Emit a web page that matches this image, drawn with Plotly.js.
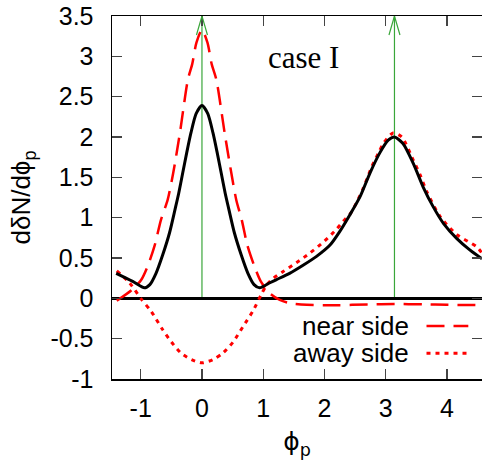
<!DOCTYPE html>
<html>
<head>
<meta charset="utf-8">
<script src="https://cdn.plot.ly/plotly-3.0.1.min.js"></script>
<style>html,body{margin:0;padding:0;background:#fff;}#chart{width:482px;height:467px;}</style>
</head>
<body>
<div id="chart"></div>
<script>
// total (solid black)
var totalX = [-1.40,-1.13,-0.94,-0.85,-0.75,-0.64,-0.53,-0.44,-0.38,-0.315,-0.25,-0.18,-0.095,0,0.095,0.18,0.25,0.315,0.38,0.44,0.53,0.64,0.75,0.85,0.94,1.10,1.21,1.43,1.65,1.87,2.09,2.25,2.41,2.58,2.74,2.90,3.04,3.14,3.28,3.45,3.61,3.77,3.94,4.16,4.37,4.57];
var totalY = [0.31,0.21,0.13,0.17,0.31,0.54,0.81,1.10,1.30,1.55,1.80,2.05,2.29,2.39,2.29,2.05,1.80,1.55,1.30,1.10,0.81,0.54,0.31,0.17,0.13,0.19,0.23,0.31,0.41,0.52,0.66,0.83,1.03,1.26,1.55,1.80,1.96,2.00,1.92,1.67,1.38,1.14,0.93,0.74,0.60,0.49];
// near side (red dashed)
var nearX = [-1.39,-1.15,-0.99,-0.88,-0.77,-0.67,-0.56,-0.47,-0.36,-0.23,-0.16,-0.09,0,0.09,0.16,0.235,0.37,0.48,0.56,0.65,0.74,0.85,0.96,1.11,1.27,1.43,1.71,2.2,2.7,3.14,3.6,4.0,4.57];
var nearY = [-0.03,0.10,0.23,0.41,0.66,0.97,1.22,1.55,2.05,2.71,2.90,3.17,3.33,3.17,2.90,2.71,2.05,1.55,1.22,0.97,0.66,0.41,0.21,0.06,-0.02,-0.06,-0.08,-0.085,-0.075,-0.07,-0.075,-0.08,-0.085];
// away side (red dotted)
var awayX = [-1.39,-1.18,-0.99,-0.83,-0.64,-0.50,-0.34,-0.17,0,0.18,0.34,0.51,0.67,0.83,0.97,1.05,1.15,1.32,1.54,1.76,2.0,2.20,2.30,2.44,2.63,2.77,2.88,2.96,3.12,3.26,3.45,3.56,3.67,3.89,4.16,4.48,4.57];
var awayY = [0.34,0.19,-0.01,-0.16,-0.39,-0.54,-0.68,-0.76,-0.80,-0.76,-0.68,-0.54,-0.35,-0.16,0.05,0.16,0.24,0.33,0.44,0.56,0.71,0.86,0.95,1.07,1.36,1.63,1.80,1.92,2.05,2.00,1.71,1.53,1.32,1.01,0.79,0.64,0.56];
// arrow positions (peak directions)
var arrowX = [0, Math.PI];
var seriesNames = ["near side", "away side"];
var xTicks = [-1,0,1,2,3,4];
var yTicks = [-1,-0.5,0,0.5,1,1.5,2,2.5,3,3.5];

var red = "#ff0000";
var green = "#3aa63a";
var traces = [
  {x: nearX, y: nearY, mode: "lines", line: {color: red, width: 2.5, dash: "18px,9px", shape: "spline", smoothing: 0.7}, showlegend: false, hoverinfo: "skip"},
  {x: awayX, y: awayY, mode: "lines", line: {color: red, width: 3, dash: "4px,5px", shape: "spline", smoothing: 0.7}, showlegend: false, hoverinfo: "skip"},
  {x: totalX, y: totalY, mode: "lines", line: {color: "#000", width: 3, shape: "spline", smoothing: 0.7}, showlegend: false, hoverinfo: "skip"}
];

var shapes = [];
arrowX.forEach(function(ax){
  shapes.push({type: "line", xref: "x", yref: "y", x0: ax, x1: ax, y0: 0, y1: 3.5, line: {color: green, width: 1.2}, layer: "below"});
  shapes.push({type: "path", xref: "x", yref: "y", xsizemode: "pixel", ysizemode: "pixel", xanchor: ax, yanchor: 3.5, path: "M-5.5,-19L0,0L5.5,-19", line: {color: green, width: 1.2}});
});
// legend samples
shapes.push({type: "line", xref: "paper", yref: "paper", x0: 0.850, x1: 0.963, y0: 0.146, y1: 0.146, line: {color: red, width: 2.5, dash: "18px,9px"}});
shapes.push({type: "line", xref: "paper", yref: "paper", x0: 0.850, x1: 0.963, y0: 0.071, y1: 0.071, line: {color: red, width: 3, dash: "4px,5px"}});

var layout = {
  width: 482, height: 467,
  margin: {l: 112, r: 0, t: 16, b: 88},
  paper_bgcolor: "#fff", plot_bgcolor: "#fff",
  font: {family: "Liberation Sans, Arial, sans-serif", size: 25, color: "#000"},
  showlegend: false,
  xaxis: {
    range: [-1.468, 4.570], tickvals: xTicks, ticktext: xTicks.map(String),
    ticks: "inside", ticklen: 10, tickwidth: 1.2, tickcolor: "#444",
    showline: true, linecolor: "#000", linewidth: 1.5, mirror: "ticks",
    showgrid: false, zeroline: false, ticklabelstandoff: 6,
    title: {text: "ϕ<sub>p</sub>", font: {size: 25, family: "DejaVu Sans, Liberation Sans, sans-serif"}, standoff: 12}
  },
  yaxis: {
    range: [-1, 3.5], tickvals: yTicks, ticktext: yTicks.map(String),
    ticks: "inside", ticklen: 10, tickwidth: 1.2, tickcolor: "#444",
    showline: true, linecolor: "#000", linewidth: 1.5, mirror: "ticks",
    showgrid: false, zeroline: true, zerolinecolor: "#000", zerolinewidth: 3.5,
    ticklabelstandoff: 12,
    title: {text: "dδN/dϕ<sub>p</sub>", font: {size: 26}, standoff: 12}
  },
  shapes: shapes,
  annotations: [
    {text: "case I", xref: "paper", yref: "paper", x: 0.517, y: 0.887, xanchor: "center", yanchor: "middle", showarrow: false, font: {family: "Liberation Serif, Times New Roman, serif", size: 31, color: "#000"}},
    {text: seriesNames[0], xref: "paper", yref: "paper", x: 0.808, y: 0.146, xanchor: "right", yanchor: "middle", showarrow: false, font: {size: 26, color: "#000"}},
    {text: seriesNames[1], xref: "paper", yref: "paper", x: 0.808, y: 0.071, xanchor: "right", yanchor: "middle", showarrow: false, font: {size: 26, color: "#000"}}
  ]
};

Plotly.newPlot("chart", traces, layout, {staticPlot: true, displayModeBar: false});
</script>
</body>
</html>
